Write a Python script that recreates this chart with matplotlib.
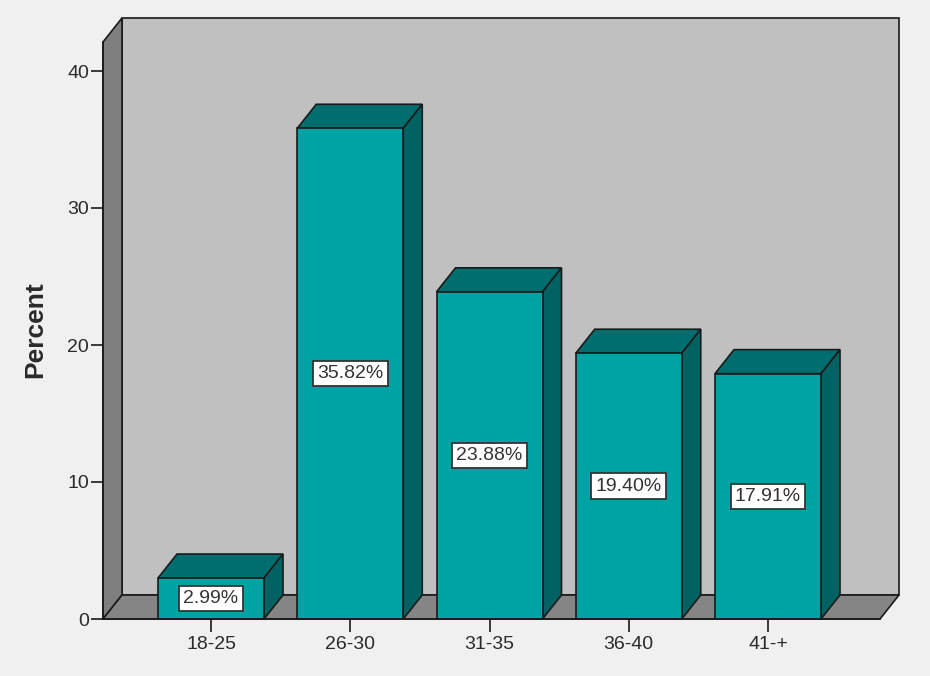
import matplotlib
matplotlib.use("Agg")
import matplotlib.pyplot as plt
from matplotlib.patches import Polygon

categories = ["18-25", "26-30", "31-35", "36-40", "41-+"]
percents = [2.99, 35.82, 23.88, 19.40, 17.91]
labels = ["2.99%", "35.82%", "23.88%", "19.40%", "17.91%"]
yticks = [0, 10, 20, 30, 40]

plt.rcParams['font.family'] = ['Liberation Sans', 'DejaVu Sans']

W, H = 930, 676
fig = plt.figure(figsize=(W / 100, H / 100), dpi=100, facecolor='#f0f0f0')

# front plane in pixels
x0p, x1p = 103, 880
y0p, y1p = 619, 42
ax = fig.add_axes([x0p / W, 1 - y0p / H, (x1p - x0p) / W, (y0p - y1p) / H])
ax.set_facecolor('none')

pxx = 139.25
pxy = 13.7
xmin = -(211 - x0p) / pxx
xmax = xmin + (x1p - x0p) / pxx
ymin = 0
ymax = (y0p - y1p) / pxy
ax.set_xlim(xmin, xmax)
ax.set_ylim(ymin, ymax)

dx = 19 / pxx
dy = 24 / pxy
edge = '#1a1a1a'

def poly(pts, fc, z):
    ax.add_patch(Polygon(pts, closed=True, facecolor=fc, edgecolor=edge,
                         linewidth=1.2, clip_on=False, zorder=z))

# back wall
poly([(xmin + dx, dy), (xmax + dx, dy), (xmax + dx, ymax + dy), (xmin + dx, ymax + dy)], '#c0c0c0', 1)
# left side wall
poly([(xmin, 0), (xmin + dx, dy), (xmin + dx, ymax + dy), (xmin, ymax)], '#7f7f7f', 2)
# floor
poly([(xmin, 0), (xmax, 0), (xmax + dx, dy), (xmin + dx, dy)], '#858585', 2)

bw = 106 / pxx
front_c = '#00a3a3'
top_c = '#006e6e'
side_c = '#006262'
for i, (v, lab) in enumerate(zip(percents, labels)):
    l, r = i - bw / 2, i + bw / 2
    poly([(l, v), (r, v), (r + dx, v + dy), (l + dx, v + dy)], top_c, 3)
    poly([(r, 0), (r + dx, dy), (r + dx, v + dy), (r, v)], side_c, 3)
    poly([(l, 0), (r, 0), (r, v), (l, v)], front_c, 4)
    ax.text(i, v / 2, lab, ha='center', va='center', fontsize=14, color='#333333', zorder=6,
            bbox=dict(boxstyle='square,pad=0.22', facecolor='white', edgecolor='#333333', linewidth=1.3))

for s in ['top', 'right']:
    ax.spines[s].set_visible(False)
for s in ['left', 'bottom']:
    ax.spines[s].set_color(edge)
    ax.spines[s].set_zorder(5)
    ax.spines[s].set_linewidth(1.2)

ax.set_yticks(yticks)
ax.set_yticklabels([str(t) for t in yticks])
ax.set_xticks(range(len(categories)))
ax.set_xticklabels(categories)
ax.tick_params(axis='both', labelsize=14, colors='#2a2a2a', length=9, width=1.3, direction='out')
ax.tick_params(axis='x', pad=3)
ax.tick_params(axis='y', pad=1)

fig.text(35 / W, 1 - 330 / H, 'Percent', rotation=90, ha='center', va='center',
         fontsize=19, fontweight='bold', color='#2a2a2a')
fig.text(480 / W, 1 - 689 / H, 'Respondent Age', ha='center', va='center',
         fontsize=17, fontweight='bold', color='#2a2a2a')

fig.savefig('out.png', dpi=100, facecolor=fig.get_facecolor())
